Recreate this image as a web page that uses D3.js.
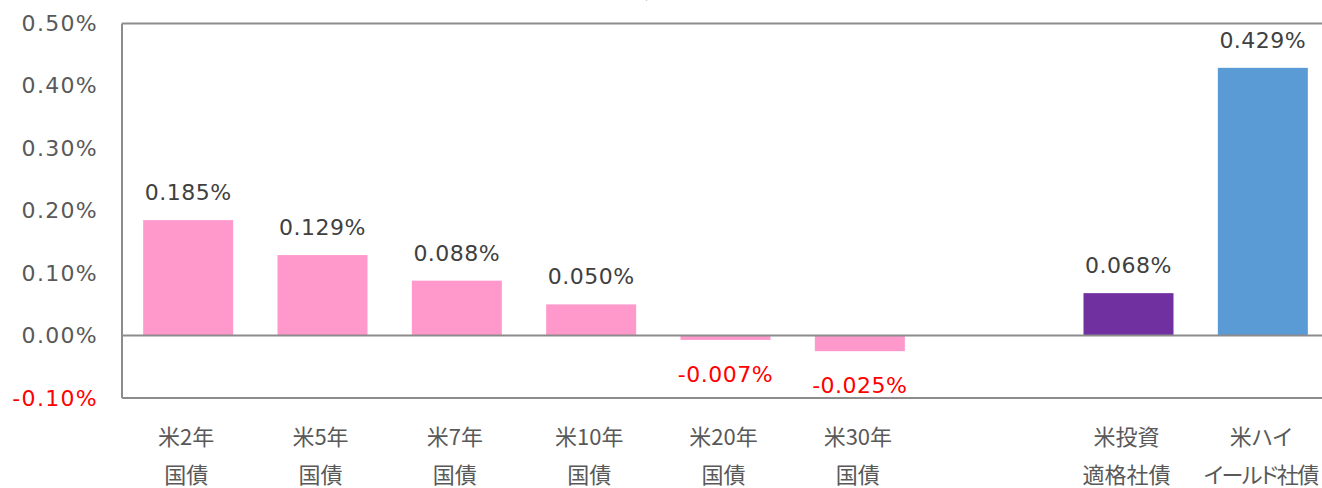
<!DOCTYPE html>
<html><head><meta charset="utf-8">
<script src="https://cdn.jsdelivr.net/npm/d3@7"></script>
<style>
html,body{margin:0;padding:0;background:#fff;}
svg{display:block;}
</style></head>
<body>
<svg id="chart" width="1322" height="488"></svg>
<script>
const categories = ["米2年\n国債","米5年\n国債","米7年\n国債","米10年\n国債","米20年\n国債","米30年\n国債","","米投資\n適格社債","米ハイ\nイールド社債"];
const values = [0.185, 0.129, 0.088, 0.050, -0.007, -0.025, null, 0.068, 0.429];
const barColors = ["#FF99CC","#FF99CC","#FF99CC","#FF99CC","#FF99CC","#FF99CC",null,"#7030A0","#5B9BD5"];
const tickValues = [-0.10, 0.00, 0.10, 0.20, 0.30, 0.40, 0.50];
const titleText = "(各債券の月間騰落率)";

const svg = d3.select("#chart");
const latin = "'DejaVu Sans', Verdana, sans-serif";
const cjk = "'Noto Sans CJK JP', 'Noto Sans', sans-serif";
const pct = (f) => (d) => d3.format(f)(d).replace("\u2212","-") + "%";

const x = d3.scaleBand().domain(d3.range(categories.length)).range([121, 1330]).paddingInner(0.33).paddingOuter(0.165);
const y = d3.scaleLinear().domain([-0.10, 0.50]).range([398, 23.5]);

// title (cropped at top)
svg.append("text").attr("x", 717).attr("y", -3).attr("text-anchor","middle")
  .style("font-family", latin).style("font-size","22px").attr("fill","#000").text(titleText);

// frame
const frame = svg.append("g").attr("stroke","#8c8c8c").attr("stroke-width",2).attr("fill","none");
frame.append("line").attr("x1",122).attr("x2",1340).attr("y1",y(0.5)).attr("y2",y(0.5));
frame.append("line").attr("x1",122).attr("x2",1340).attr("y1",y(-0.1)).attr("y2",y(-0.1));
frame.append("line").attr("x1",122).attr("x2",122).attr("y1",y(0.5)).attr("y2",y(-0.1));

// bars
const data = values.map((v,i)=>({v,i,c:barColors[i]})).filter(d=>d.v!==null);
svg.append("g").selectAll("rect").data(data).join("rect")
  .attr("x", d=>x(d.i)).attr("width", x.bandwidth())
  .attr("y", d=>y(Math.max(0,d.v))).attr("height", d=>Math.abs(y(d.v)-y(0)))
  .attr("fill", d=>d.c);

// zero line
svg.append("line").attr("x1",122).attr("x2",1340).attr("y1",y(0)).attr("y2",y(0))
  .attr("stroke","#8c8c8c").attr("stroke-width",2);

// y axis labels
const yAxis = d3.axisLeft(y).tickValues(tickValues).tickSize(0).tickPadding(0)
  .tickFormat(pct(".2f"));
const ya = svg.append("g").attr("transform","translate(98,0)").call(yAxis);
ya.select(".domain").remove();
ya.selectAll("text").style("font-family",latin).style("font-size","22px").attr("letter-spacing","1.3px")
  .attr("fill", d=>d<0?"#FF0000":"#595959");

// value labels
svg.append("g").selectAll("text").data(data).join("text")
  .attr("x", d=>x(d.i)+x.bandwidth()/2)
  .attr("y", d=> d.v>=0 ? y(d.v)-20 : y(d.v)+42)
  .attr("text-anchor","middle")
  .style("font-family",latin).style("font-size","22px").attr("letter-spacing","0.5px")
  .attr("fill", d=>d.v<0?"#FF0000":"#404040")
  .text(d=>pct(".3f")(d.v));

// category labels
const xAxis = d3.axisBottom(x).tickSize(0).tickFormat("");
const xa = svg.append("g").attr("transform",`translate(0,${y(-0.1)})`).call(xAxis);
xa.select(".domain").remove();
xa.selectAll(".tick").each(function(i){
  const lines = categories[i].split("\n");
  const t = d3.select(this).append("text").attr("text-anchor","middle")
    .style("font-family",cjk).style("font-size","22px").style("font-feature-settings","'palt'")
    .attr("fill","#595959");
  lines.forEach((l,k)=>{
    if(l) t.append("tspan").attr("x",-2).attr("y",47+k*38)
      .attr("letter-spacing", l.length>4 ? "-1.5px" : null).text(l);
  });
});
</script>
</body></html>
